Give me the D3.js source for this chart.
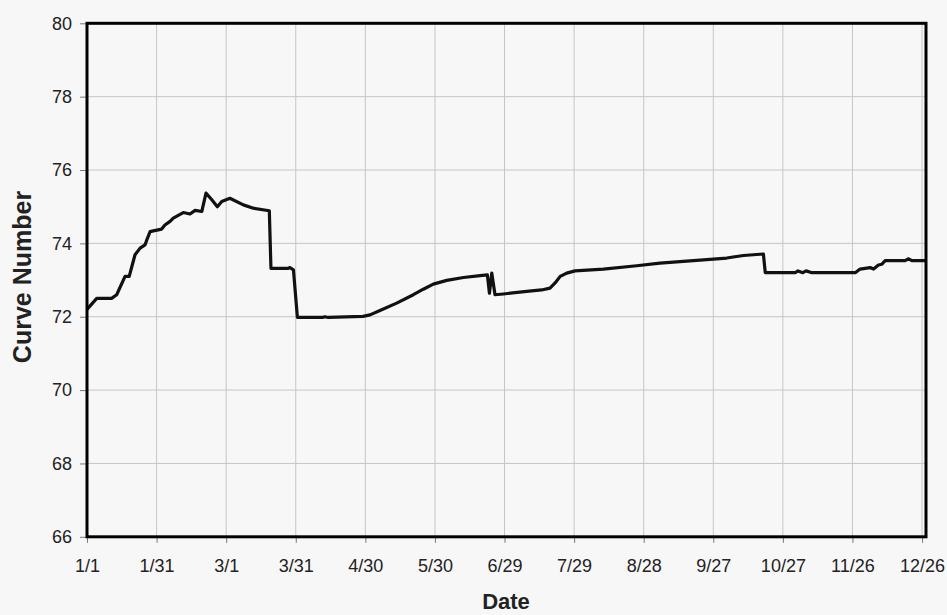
<!DOCTYPE html>
<html>
<head>
<meta charset="utf-8">
<script src="https://cdn.jsdelivr.net/npm/d3@7"></script>
<style>
  html, body { margin: 0; padding: 0; background: #f7f7f7; }
  svg { display: block; }
  text { font-family: Arial, "Liberation Sans", sans-serif; fill: #222; }
</style>
</head>
<body>
<svg id="chart" width="947" height="615"></svg>
<script>
// Day of year (0 = 1/1) and curve number values
const days = [0, 4.2, 10.6, 12.8, 16.4, 18.2, 20.7, 22.9, 25, 25.7, 27.2, 28.6, 32.2, 33.6, 35.8, 37.2,
  41.5, 44.4, 46.6, 49.5, 51.3, 53.8, 56.2, 58.1, 61.6, 67.4, 71.7, 78.6, 79.3, 86.8, 87.5, 89, 90.7,
  101.5, 102.5, 104, 119, 122, 126.3, 133.5, 140.7, 145, 149.3, 155.1, 162.3, 169.5, 172.6, 173.5,
  174.5, 175.9, 179.5, 189.6, 196, 199.6, 201.8, 204, 206.8, 210.4, 222.6, 237, 247, 261.4, 275.8,
  283, 291.6, 292.4, 305.3, 306.5, 308.6, 310, 312.5, 331.2, 333.3, 337.6, 339.1, 341.2, 342.6,
  344.1, 352.7, 354.2, 355.6, 361.4];
const curveNumber = [72.2, 72.5, 72.5, 72.6, 73.1, 73.1, 73.69, 73.87, 73.96, 74.08, 74.32, 74.34, 74.39, 74.5, 74.6, 74.69,
  74.84, 74.8, 74.9, 74.87, 75.37, 75.19, 75.0, 75.14, 75.23, 75.05, 74.96, 74.89, 73.32, 73.32, 73.34, 73.28, 71.98,
  71.98, 72.0, 71.98, 72.01, 72.05, 72.17, 72.37, 72.6, 72.75, 72.89, 72.99, 73.07, 73.12, 73.14, 72.64,
  73.19, 72.6, 72.62, 72.69, 72.73, 72.78, 72.92, 73.1, 73.19, 73.25, 73.3, 73.39, 73.46, 73.53, 73.6,
  73.67, 73.71, 73.2, 73.2, 73.25, 73.2, 73.25, 73.2, 73.2, 73.3, 73.34, 73.3, 73.41, 73.43,
  73.53, 73.53, 73.58, 73.53, 73.53];

const xTickDays = [0, 30, 60, 90, 120, 150, 180, 210, 240, 270, 300, 330, 360];
const xTickLabels = ["1/1", "1/31", "3/1", "3/31", "4/30", "5/30", "6/29", "7/29", "8/28", "9/27", "10/27", "11/26", "12/26"];
const yTicks = [66, 68, 70, 72, 74, 76, 78, 80];

const xLabel = "Date";
const yLabel = "Curve Number";

const svg = d3.select("#chart");
const L = 87, R = 926, T = 23.3, B = 536.8;

const x = d3.scaleLinear().domain([0, 361.7]).range([L, R]);
const y = d3.scaleLinear().domain([66, 80]).range([B, T]);

// background
svg.append("rect").attr("width", 947).attr("height", 615).attr("fill", "#f7f7f7");

// gridlines
const grid = svg.append("g");
grid.selectAll("line.v").data(xTickDays.slice(1)).join("line")
  .attr("x1", d => x(d)).attr("x2", d => x(d))
  .attr("y1", T).attr("y2", B)
  .attr("stroke", "#c6c6c6").attr("stroke-width", 1);
grid.selectAll("line.h").data(yTicks.slice(1, -1)).join("line")
  .attr("x1", L).attr("x2", R)
  .attr("y1", d => y(d)).attr("y2", d => y(d))
  .attr("stroke", "#c6c6c6").attr("stroke-width", 1);

// axes
const xAxis = d3.axisBottom(x).tickValues(xTickDays)
  .tickFormat((d, i) => xTickLabels[i]).tickSizeOuter(0).tickSize(6).tickPadding(16);
const gx = svg.append("g").attr("transform", `translate(0,${B})`).call(xAxis);
gx.select(".domain").remove();
gx.selectAll(".tick line").attr("stroke", "#777");
gx.selectAll(".tick text").attr("font-size", 18).attr("fill", "#222")
  .attr("font-family", "Arial, 'Liberation Sans', sans-serif");

const yAxis = d3.axisLeft(y).tickValues(yTicks).tickSizeOuter(0).tickSize(7).tickPadding(8);
const gy = svg.append("g").attr("transform", `translate(${L},0)`).call(yAxis);
gy.select(".domain").remove();
gy.selectAll(".tick line").attr("stroke", "#777");
gy.selectAll(".tick text").attr("font-size", 18).attr("fill", "#222")
  .attr("font-family", "Arial, 'Liberation Sans', sans-serif");

// data line
const line = d3.line().x((d, i) => x(days[i])).y(d => y(d));
svg.append("path").datum(curveNumber)
  .attr("d", line)
  .attr("fill", "none").attr("stroke", "#111").attr("stroke-width", 3.2)
  .attr("stroke-linejoin", "round");

// frame
svg.append("rect").attr("x", L).attr("y", T).attr("width", R - L).attr("height", B - T)
  .attr("fill", "none").attr("stroke", "#000").attr("stroke-width", 3);

// axis titles
svg.append("text").attr("x", 506).attr("y", 609).attr("text-anchor", "middle")
  .attr("font-size", 22).attr("font-weight", "bold").text(xLabel);
svg.append("text").attr("transform", "translate(31,277) rotate(-90)").attr("text-anchor", "middle")
  .attr("font-size", 25).attr("font-weight", "bold").text(yLabel);
</script>
</body>
</html>
